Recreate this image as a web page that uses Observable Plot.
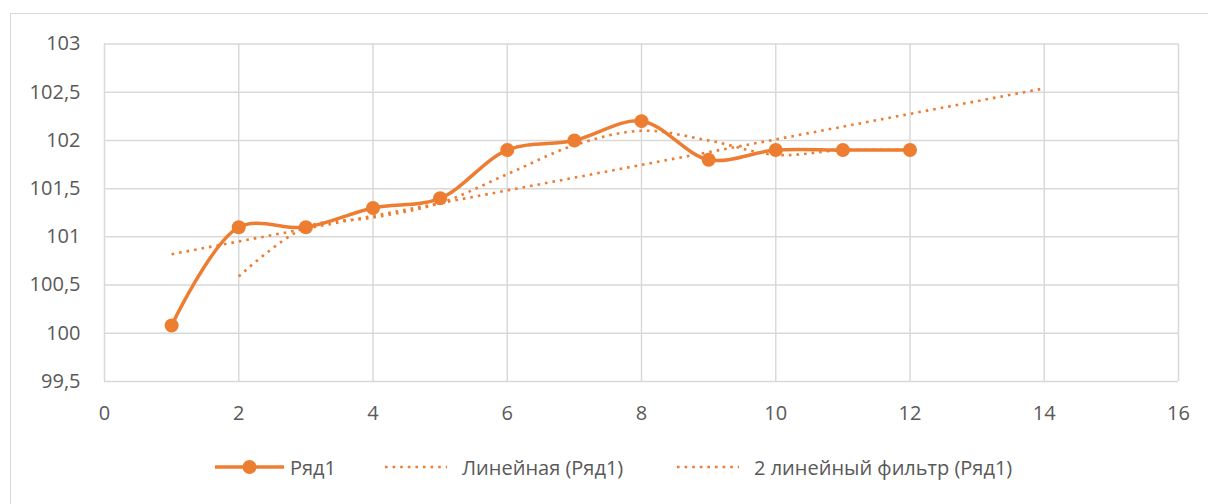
<!DOCTYPE html>
<html><head><meta charset="utf-8">
<script src="https://cdn.jsdelivr.net/npm/d3@7"></script>
<script src="https://cdn.jsdelivr.net/npm/@observablehq/plot@0.6"></script>
<style>
body{margin:0;background:#fff;font-family:"Open Sans",sans-serif;}
#wrap{position:relative;width:1208px;height:504px;overflow:hidden;}
#frame{position:absolute;left:10px;top:13px;width:1300px;height:600px;border-left:1.5px solid #d9d9d9;border-top:1.5px solid #d9d9d9;}
#chart{position:absolute;left:0;top:0;}
#legend{position:absolute;top:453px;left:0;width:1208px;height:28px;font-size:20px;color:#595959;}
#legend .it{position:absolute;top:0;display:flex;align-items:center;height:28px;white-space:nowrap;}
</style></head><body>
<div id="wrap"><div id="frame"></div><div id="chart"></div><div id="legend"></div></div>
<script>
const xs = [1,2,3,4,5,6,7,8,9,10,11,12];
const series1 = [100.08,101.1,101.1,101.3,101.4,101.9,102.0,102.2,101.8,101.9,101.9,101.9];
const trendX = [1,14];
const trendY = [100.82,102.54];
const maX = [2,3,4,5,6,7,8,9,10,11,12];
const maY = [100.59,101.1,101.2,101.35,101.65,101.95,102.1,102.0,101.85,101.9,101.9];
const xTicks = [0,2,4,6,8,10,12,14,16];
const yTicks = [99.5,100,100.5,101,101.5,102,102.5,103];
const names = ["Ряд1","Линейная (Ряд1)","2 линейный фильтр (Ряд1)"];
const orange = "#ED7D31";
const fmt = d => String(d).replace(".", ",");

const main = xs.map((x,i)=>({x,y:series1[i]}));
const trend = trendX.map((x,i)=>({x,y:trendY[i]}));
const ma = maX.map((x,i)=>({x,y:maY[i]}));

const chart = Plot.plot({
  width:1208, height:440,
  marginLeft:104, marginRight:30, marginTop:43.5, marginBottom:59,
  style:{fontFamily:"Open Sans, sans-serif", fontSize:"20px", color:"#595959", background:"transparent"},
  x:{domain:[0,16], label:null},
  y:{domain:[99.5,103], label:null},
  marks:[
    Plot.gridX(xTicks,{stroke:"#d9d9d9", strokeOpacity:1, strokeWidth:1.5}),
    Plot.gridY(yTicks,{stroke:"#d9d9d9", strokeOpacity:1, strokeWidth:1.5}),
    Plot.axisX({ticks:xTicks, tickFormat:fmt, tickSize:0, tickPadding:24, fill:"#595959", fontSize:20}),
    Plot.axisY({ticks:yTicks, tickFormat:fmt, tickSize:0, tickPadding:24, fill:"#595959", fontSize:20}),
    Plot.line(trend,{x:"x",y:"y",stroke:orange,strokeWidth:2.6,strokeDasharray:"2.6,5",strokeLinecap:"butt"}),
    Plot.line(ma,{x:"x",y:"y",stroke:orange,strokeWidth:2.6,strokeDasharray:"2.6,5",strokeLinecap:"butt",curve:"catmull-rom"}),
    Plot.line(main,{x:"x",y:"y",stroke:orange,strokeWidth:3.5,curve:"catmull-rom"}),
    Plot.dot(main,{x:"x",y:"y",r:7,fill:orange,stroke:null})
  ]
});
document.getElementById("chart").appendChild(chart);

const leg = document.getElementById("legend");
const items = [
  {left:215, type:"marker", name:names[0]},
  {left:385, type:"dot", name:names[1]},
  {left:677, type:"dot", name:names[2]}
];
for (const it of items){
  const d = document.createElement("div");
  d.className="it"; d.style.left=it.left+"px";
  const sw = it.type==="marker"
    ? `<svg width="69" height="28"><line x1="0" y1="14" x2="69" y2="14" stroke="${orange}" stroke-width="3.5"/><circle cx="34.5" cy="14" r="7" fill="${orange}"/></svg>`
    : `<svg width="62" height="28"><line x1="0" y1="14" x2="62" y2="14" stroke="${orange}" stroke-width="2.6" stroke-dasharray="2.6,5"/></svg>`;
  d.innerHTML = sw + `<span style="margin-left:${it.type==="marker"?6:15}px">${it.name}</span>`;
  leg.appendChild(d);
}
</script>
</body></html>
